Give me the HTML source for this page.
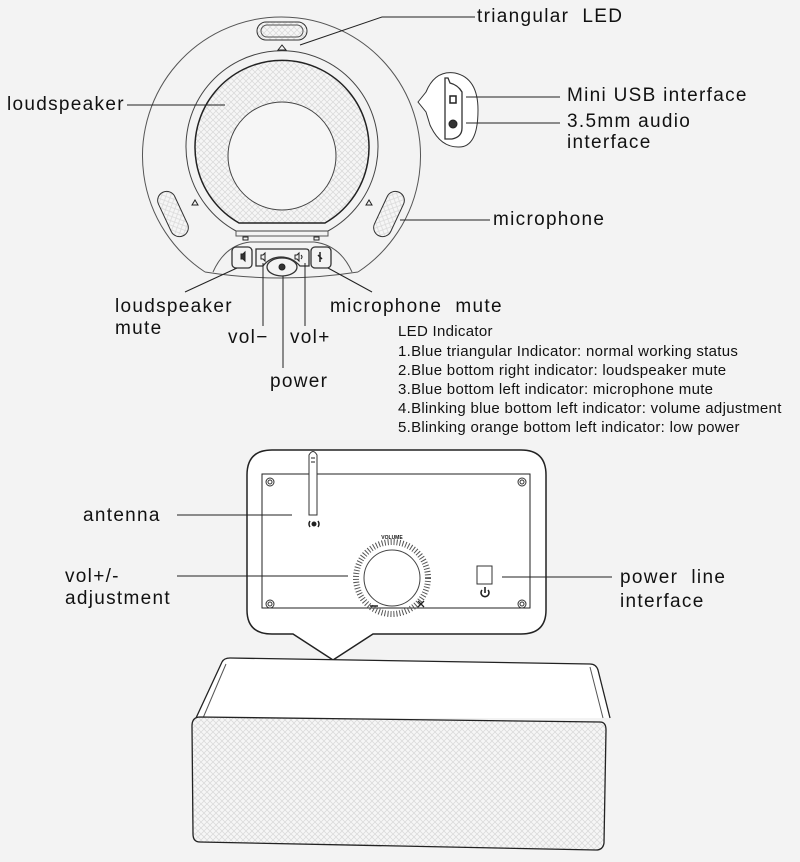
<!DOCTYPE html>
<html><head><meta charset="utf-8"><style>
html,body{margin:0;padding:0;background:#f3f3f3;}
svg{display:block}
text{font-family:"Liberation Sans",sans-serif;fill:#111;}
.l{font-size:19px;letter-spacing:1.3px}
.s{font-size:15px;letter-spacing:0.3px}
</style></head><body>
<svg width="800" height="862" viewBox="0 0 800 862" xmlns="http://www.w3.org/2000/svg">
<defs>
<pattern id="mesh" width="6" height="6" patternUnits="userSpaceOnUse">
<rect width="6" height="6" fill="#f6f6f6"/>
<path d="M3 0L6 3L3 6L0 3Z" fill="none" stroke="#dadada" stroke-width="0.8"/>
</pattern>
</defs>
<g fill="none" stroke="#222" stroke-width="1">
<path d="M205 272 A139 139 0 1 1 358 272" stroke="#555"/>
<path d="M205 272 Q281 284 358 272" stroke="#555"/>
<path d="M236 231 A96 96 0 1 1 328 231 Z" stroke="#444"/>
<path d="M239 223 A87 87 0 1 1 325 223 Z" fill="url(#mesh)" stroke="#222" stroke-width="1.5"/>
<circle cx="282" cy="156" r="54" fill="#f6f6f6" stroke="#444"/>
<path d="M236 231 L236 236 L328 236 L328 231" stroke="#555"/>
<rect x="257" y="22" width="50" height="18" rx="9" fill="url(#mesh)" stroke="#333"/>
<rect x="261" y="25" width="42" height="12" rx="6" stroke="#555"/>
<path d="M278 50 L282 45 L286 50 Z"/>
<rect x="164" y="190" width="18" height="48" rx="9" transform="rotate(-25 173 214)" fill="url(#mesh)" stroke="#333"/>
<rect x="380" y="190" width="18" height="48" rx="9" transform="rotate(25 389 214)" fill="url(#mesh)" stroke="#333"/>
<path d="M192 205 L195 200 L198 205Z"/><path d="M366 205 L369 200 L372 205Z"/>
<rect x="243" y="237" width="5" height="3"/><rect x="314" y="237" width="5" height="3"/>
<path d="M213 272 Q225 245 250 242 L314 242 Q340 245 352 272" stroke="#555"/>
<rect x="232" y="247" width="20" height="21" rx="4" stroke="#333" stroke-width="1.3"/>
<path d="M256 249 L306 249 Q309 249 309 252 L309 266 L300 266 Q292 257 281 257 Q270 257 263 266 L256 266 Z" stroke="#333" stroke-width="1.3"/>
<rect x="311" y="247" width="20" height="21" rx="4" stroke="#333" stroke-width="1.3"/>
<ellipse cx="282" cy="267" rx="15" ry="9" stroke="#333" stroke-width="1.3"/>
<circle cx="282" cy="267" r="3" fill="#333"/>
<path d="M241 254 L243 254 L245 252 L245 261 L243 259 L241 259Z" fill="#333"/>
<path d="M261 255 L263 255 L265 253 L265 261 L263 259 L261 259Z"/>
<path d="M295 255 L297 255 L299 253 L299 261 L297 259 L295 259Z M301 255 Q303 257 301 259"/>
<path d="M320 252 L320 262 M318 255 L322 259" stroke-width="1.5"/>
<path d="M418 102 L426 92 Q435 70 455 73 Q478 78 478 110 Q478 148 458 147 Q440 147 430 125 L426 112 Z" fill="#fff" stroke="#333"/>
<path d="M445 78 L445 139 L452 139 Q462 137 462 128 L462 92 Q458 85 450 83 L448 78 Z" stroke="#333" stroke-width="1.3"/>
<rect x="450" y="96" width="6" height="7" stroke-width="1.5"/>
<circle cx="453" cy="124" r="4" fill="#333"/>
<path d="M300 45 L382 17 L475 17"/>
<path d="M127 105 L225 105"/>
<path d="M466 97 L560 97"/>
<path d="M466 123 L560 123"/>
<path d="M400 220 L490 220"/>
<path d="M237 268 L185 292"/>
<path d="M328 268 L372 292"/>
<path d="M263 263 L263 326"/>
<path d="M283 276 L283 368"/>
<path d="M305 263 L305 326"/>
<path d="M272 450 L521 450 Q546 450 546 475 L546 610 Q546 634 521 634 L373 634 L333 660 L293 634 L272 634 Q247 634 247 610 L247 475 Q247 450 272 450 Z" fill="#fff" stroke="#222" stroke-width="1.5"/>
<rect x="262" y="474" width="268" height="134" stroke="#222"/>
<g stroke="#333"><circle cx="270" cy="482" r="4"/><circle cx="270" cy="482" r="2"/>
<circle cx="522" cy="482" r="4"/><circle cx="522" cy="482" r="2"/>
<circle cx="270" cy="604" r="4"/><circle cx="270" cy="604" r="2"/>
<circle cx="522" cy="604" r="4"/><circle cx="522" cy="604" r="2"/></g>
<path d="M309 515 L309 455 Q313 448 317 455 L317 515 Z" fill="#fff" stroke="#333"/>
<path d="M311 458 L315 458 M311 462 L315 462"/>
<circle cx="314" cy="524" r="2" fill="#222"/><path d="M310 521 Q308 524 310 527 M318 521 Q320 524 318 527" stroke-width="1.5"/>
<circle cx="392" cy="578" r="28" stroke="#444"/>
<circle cx="392" cy="578" r="36" stroke="#555" stroke-width="6" stroke-dasharray="1 2"/>
<path d="M370 606 L378 606" stroke-width="1.5"/>
<path d="M418 601 L424 607 M424 601 L418 607" stroke-width="1.3"/>
<rect x="477" y="566" width="15" height="18" stroke="#333"/>
<path d="M482 590 A4 4 0 1 0 488 590 M485 587 L485 593" stroke-width="1.6"/>
<path d="M177 515 L292 515"/>
<path d="M177 576 L348 576"/>
<path d="M502 577 L612 577"/>
<path d="M196 718 L222 662 Q224 658 230 658 L590 664 Q596 664 598 670 L610 718" fill="#fff" stroke="#222" stroke-width="1.3"/>
<path d="M203 718 L226 664 M603 718 L590 667" stroke="#555"/>
<path d="M200 717 L600 722 Q606 722 606 730 L604 843 Q603 850 596 850 L200 842 Q193 842 193 834 L192 726 Q192 717 200 717 Z" fill="url(#mesh)" stroke="#222" stroke-width="1.3"/>
</g>
<text x="392" y="539" font-size="5" text-anchor="middle" font-weight="bold">VOLUME</text>
<text class="l" x="477" y="22">triangular&#160; LED</text>
<text class="l" x="7" y="110">loudspeaker</text>
<text class="l" x="567" y="101">Mini USB interface</text>
<text class="l" x="567" y="127">3.5mm audio</text>
<text class="l" x="567" y="148">interface</text>
<text class="l" x="493" y="225">microphone</text>
<text class="l" x="115" y="312">loudspeaker</text>
<text class="l" x="115" y="334">mute</text>
<text class="l" x="330" y="312">microphone&#160; mute</text>
<text class="l" x="228" y="343">vol−</text>
<text class="l" x="290" y="343">vol+</text>
<text class="l" x="270" y="387">power</text>
<text class="s" x="398" y="336">LED Indicator</text>
<text class="s" x="398" y="356">1.Blue triangular Indicator: normal working status</text>
<text class="s" x="398" y="375">2.Blue bottom right indicator: loudspeaker mute</text>
<text class="s" x="398" y="394">3.Blue bottom left indicator: microphone mute</text>
<text class="s" x="398" y="413">4.Blinking blue bottom left indicator: volume adjustment</text>
<text class="s" x="398" y="432">5.Blinking orange bottom left indicator: low power</text>
<text class="l" x="83" y="521">antenna</text>
<text class="l" x="65" y="582">vol+/-</text>
<text class="l" x="65" y="604">adjustment</text>
<text class="l" x="620" y="583">power&#160; line</text>
<text class="l" x="620" y="607">interface</text>
</svg>
</body></html>
